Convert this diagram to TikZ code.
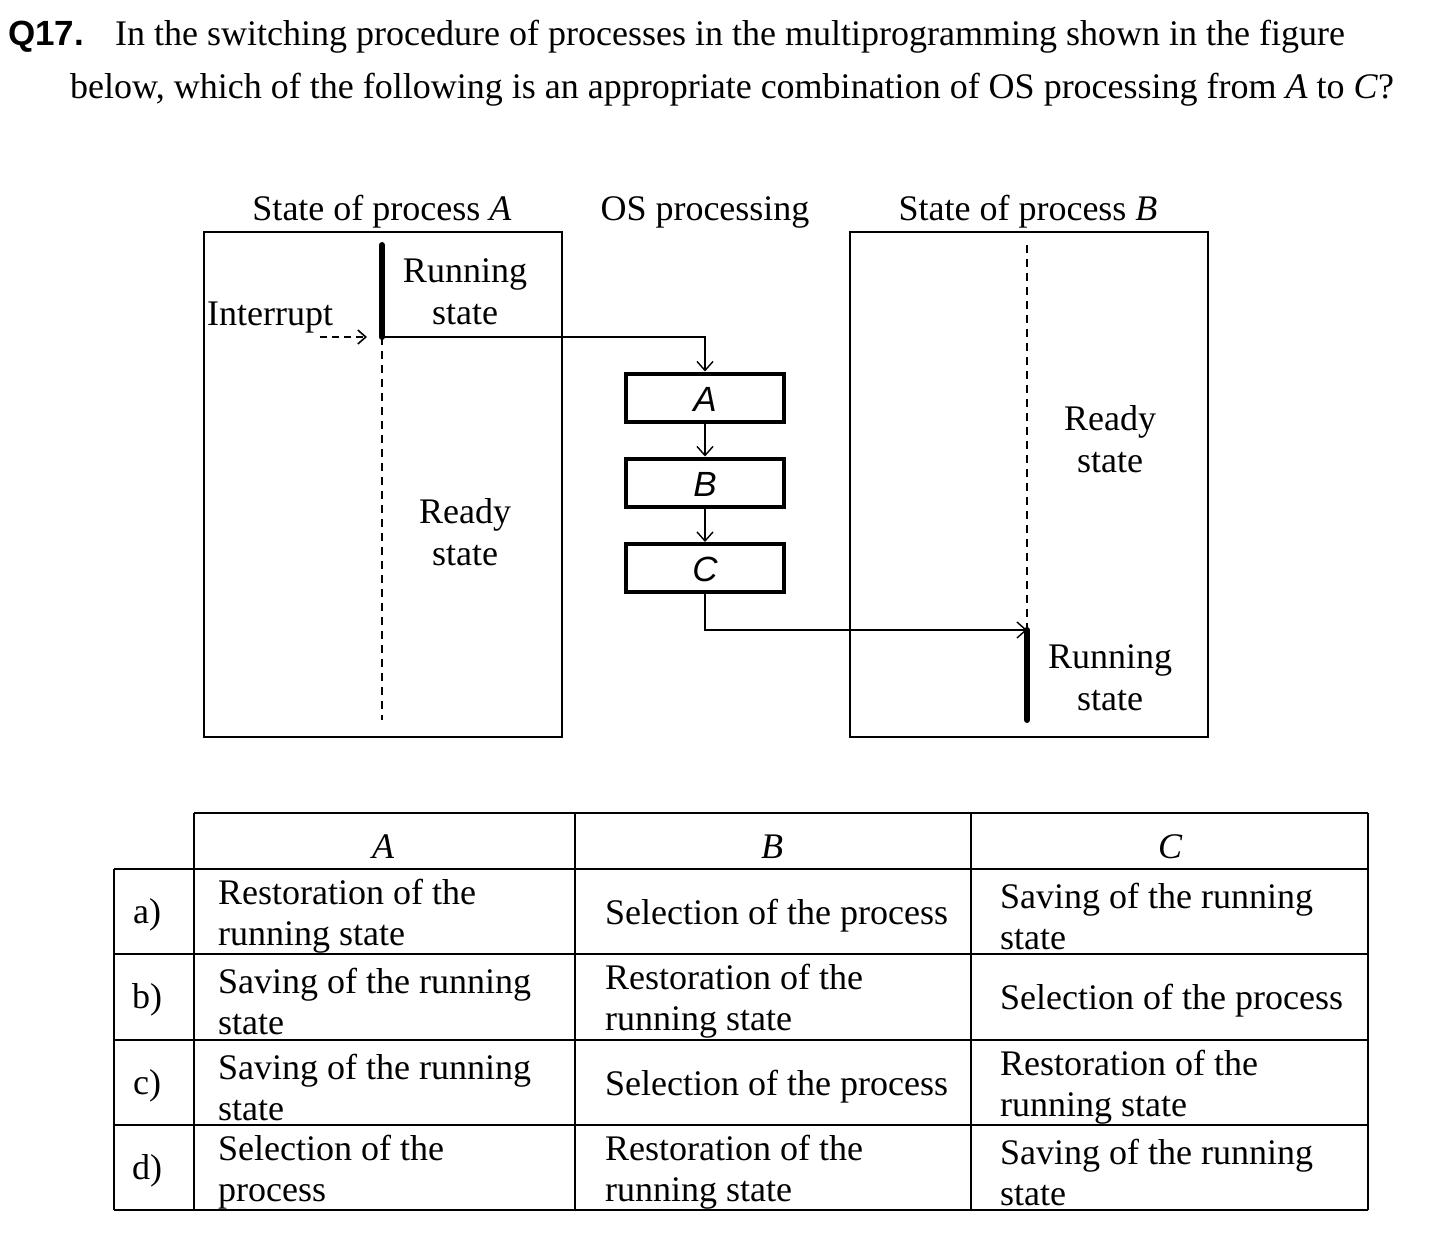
\documentclass[tikz,border=0pt]{standalone}
\usepackage{fontspec}
\setmainfont{Liberation Serif}
\newfontfamily\arialf{Liberation Sans}
\usetikzlibrary{arrows.meta}
\begin{document}
\begin{tikzpicture}[x=1pt,y=-1pt,
  every node/.style={inner sep=0pt, font=\fontsize{36}{42}\selectfont},
  ttl/.style={anchor=base west, font=\fontsize{36}{40}\selectfont},
  frame/.style={draw, line width=2pt, anchor=north west, minimum width=358pt, minimum height=505pt},
  osbox/.style={draw, line width=4pt, minimum width=158pt, minimum height=48pt},
  oslet/.style={anchor=base, font=\arialf\itshape\fontsize{35}{38}\selectfont},
  conn/.style={line width=1.6pt, -{Straight Barb[length=9pt,width=16pt,line width=1.4pt]}},
  runline/.style={line width=6pt, line cap=round},
  waitline/.style={line width=2.2pt, dash pattern=on 8pt off 6pt},
  tl/.style={line width=2.4pt},
  cell/.style={anchor=west, align=left, font=\fontsize{36}{41}\selectfont},
  hdr/.style={anchor=base, font=\itshape\fontsize{36}{42}\selectfont},
  lbl/.style={anchor=center}
]
\useasboundingbox (0,0) rectangle (1450,1237);

% title
\node[anchor=base west, font=\arialf\bfseries\fontsize{35}{38}\selectfont] (q) at (8,45) {Q17.};
\node[ttl] (l1) at (115,45) {In the switching procedure of processes in the multiprogramming shown in the figure};
\node[ttl] (l2) at (70,98) {below, which of the following is an appropriate combination of OS processing from \textit{A} to \textit{C}?};

% headings
\node[anchor=base] (ha) at (382,220) {State of process \textit{A}};
\node[anchor=base] (ho) at (705,220) {OS processing};
\node[anchor=base] (hb) at (1028,220) {State of process \textit{B}};

% frames
\node[frame] (fa) at (203,231) {};
\node[frame] (fb) at (849,231) {};

% process A
\coordinate (atop) at (382,245);
\coordinate (aint) at (382,337);
\coordinate (aend) at (382,720);
\draw[runline] (atop) -- (aint);
\draw[waitline] (aint) -- (aend);
\node[anchor=base west] (intr) at (207,325) {Interrupt};
\coordinate (ia) at (320,337);
\coordinate (ib) at (367,337);
\draw[line width=1.8pt, dash pattern=on 7pt off 5pt, -{Straight Barb[length=8pt,width=14pt,line width=1.6pt]}] (ia) -- (ib);
\node[align=center] (arun) at (465,292) {Running\\state};
\node[align=center] (ardy) at (465,532) {Ready\\state};

% OS processing
\node[osbox] (oa) at (705,397.5) {};
\node[osbox] (ob) at (705,482.5) {};
\node[osbox] (oc) at (705,568) {};
\node[oslet] (ta) at (705,411) {A};
\node[oslet] (tb) at (705,496) {B};
\node[oslet] (tc) at (705,581) {C};
\draw[conn] (aint) -| (oa.north);
\draw[conn] (oa.south) -- (ob.north);
\draw[conn] (ob.south) -- (oc.north);

% process B
\coordinate (btop) at (1027,245);
\coordinate (bsw) at (1027,630);
\coordinate (bend) at (1027,720);
\draw[waitline] (btop) -- (bsw);
\draw[runline] (bsw) -- (bend);
\draw[conn] (oc.south) |- (bsw);
\node[align=center] (brdy) at (1110,439) {Ready\\state};
\node[align=center] (brun) at (1110,678) {Running\\state};

% table
\draw[tl] (194,813) -- (1368,813);
\draw[tl] (114,869) -- (1368,869);
\draw[tl] (114,954) -- (1368,954);
\draw[tl] (114,1040) -- (1368,1040);
\draw[tl] (114,1125) -- (1368,1125);
\draw[tl] (114,1210) -- (1368,1210);
\draw[tl] (114,869) -- (114,1210);
\draw[tl] (194,813) -- (194,1210);
\draw[tl] (575,813) -- (575,1210);
\draw[tl] (971,813) -- (971,1210);
\draw[tl] (1368,813) -- (1368,1210);

\node[hdr] (tha) at (383,858) {A};
\node[hdr] (thb) at (772,858) {B};
\node[hdr] (thc) at (1170,858) {C};

\node[lbl] (ra) at (147,915) {a)};
\node[lbl] (rb) at (147,1000) {b)};
\node[lbl] (rc) at (147,1086) {c)};
\node[lbl] (rd) at (147,1171) {d)};

\node[cell] (a1) at (218,916) {Restoration of the\\running state};
\node[cell] (a2) at (605,916) {Selection of the process};
\node[cell] (a3) at (1000,916) {Saving of the running\\state};

\node[cell] (b1) at (218,1001) {Saving of the running\\state};
\node[cell] (b2) at (605,1001) {Restoration of the\\running state};
\node[cell] (b3) at (1000,1001) {Selection of the process};

\node[cell] (c1) at (218,1087) {Saving of the running\\state};
\node[cell] (c2) at (605,1087) {Selection of the process};
\node[cell] (c3) at (1000,1087) {Restoration of the\\running state};

\node[cell] (d1) at (218,1172) {Selection of the\\process};
\node[cell] (d2) at (605,1172) {Restoration of the\\running state};
\node[cell] (d3) at (1000,1172) {Saving of the running\\state};
\end{tikzpicture}
\end{document}
